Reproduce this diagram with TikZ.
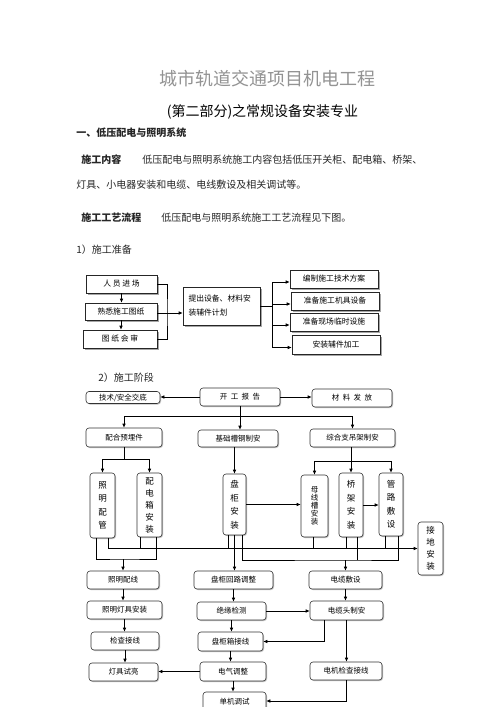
\documentclass[tikz,border=0pt]{standalone}
\usepackage{fontspec}
\setmainfont{Noto Sans CJK SC}
\usetikzlibrary{arrows.meta,shadows}

\begin{document}
\begin{tikzpicture}[x=1pt,y=-1pt, line width=0.6pt,
  arr/.style={-{Latex[length=4pt,width=3.5pt]}},
  body/.style={anchor=west, inner sep=0pt, text=black!85, font=\fontsize{10}{12}\selectfont},
  bold/.style={body, font=\bfseries\fontsize{10}{12}\selectfont},
  prep/.style={draw=black!85, fill=white, inner sep=0pt, font=\fontsize{7.8}{9}\selectfont,
    drop shadow={shadow xshift=2pt, shadow yshift=-2pt, fill=gray!70, opacity=1}},
  stage/.style={draw=black!80, rounded corners=3pt, fill=white, inner sep=0pt, font=\fontsize{7.5}{9}\selectfont,
    drop shadow={shadow xshift=1pt, shadow yshift=-1pt, fill=gray!50, opacity=1}},
  vstage/.style={stage, align=center, font=\fontsize{8.5}{13.5}\selectfont}]
\path[use as bounding box, fill=white] (0,0) rectangle (500,707);

% Heading and text
\node[text=gray!85, font=\fontsize{18}{20}\selectfont] (title) at (267.5,79) {城市轨道交通项目机电工程};
\node[font=\fontsize{14}{16}\selectfont] (subtitle) at (262.5,112) {(第二部分)之常规设备安装专业};
\node[bold] (sec) at (76,133) {一、低压配电与照明系统};
\node[bold] (content) at (81,160) {施工内容};
\node[body] (contenttext) at (142,160) {低压配电与照明系统施工内容包括低压开关柜、配电箱、桥架、};
\node[body] (contenttext2) at (76,185) {灯具、小电器安装和电缆、电线敷设及相关调试等。};
\node[bold] (flow) at (81,218) {施工工艺流程};
\node[body] (flowtext) at (161,218) {低压配电与照明系统施工工艺流程见下图。};
\node[body] (step1) at (76,250) {1）施工准备};
\node[body] (step2) at (98,378) {2）施工阶段};

% 1) preparation
\node[prep, minimum width=71pt, minimum height=18pt] (ry) at (121.5,284) {人\ 员\ 进\ 场};
\node[prep, minimum width=72pt, minimum height=17pt] (sx) at (121,311.5) {熟悉施工图纸};
\node[prep, minimum width=74pt, minimum height=18pt] (tz) at (120,339) {图\ 纸\ 会\ 审};
\node[prep, minimum width=77pt, minimum height=38pt, text width=66pt, align=left,
  font=\fontsize{7.8}{14}\selectfont] (tc) at (221.5,306) {提出设备、材料安\\装辅件计划};
\node[prep, minimum width=88pt, minimum height=18pt] (bz) at (334,279) {编制施工技术方案};
\node[prep, minimum width=88pt, minimum height=18pt] (zj) at (335,301) {准备施工机具设备};
\node[prep, minimum width=88pt, minimum height=18pt] (xc) at (334,322) {准备现场临时设施};
\node[prep, minimum width=88pt, minimum height=19pt] (fj) at (336,344.5) {安装辅件加工};

\draw[arr] (ry.south) -- (ry.south |- sx.north);
\draw[arr] (sx.south) -- (sx.south |- tz.north);
\coordinate (j1) at (167,313);
\draw (ry.east) -| (j1) |- (tz.east);
\draw[arr] (sx.east |- j1) -- (tc.west |- j1);
\coordinate (j2) at (272,306);
\draw (tc.east) -- (j2);
\foreach \n in {bz,zj,xc,fj}
  \draw[arr] (j2) |- ([yshift=-3pt]\n.west);

% 2) construction stage
\node[stage, minimum width=74pt, minimum height=12pt] (js) at (123,397.5) {技术/安全交底};
\node[stage, minimum width=80pt, minimum height=18pt] (kg) at (240,397) {开\ \ 工\ \ 报\ \ 告};
\node[stage, minimum width=80pt, minimum height=18pt] (cl) at (352,398) {材\ \ 料\ \ 发\ \ 放};
\node[stage, minimum width=76pt, minimum height=19pt] (ph) at (124,437.5) {配合预埋件};
\node[stage, minimum width=80pt, minimum height=17pt] (jc) at (238,438.5) {基础槽钢制安};
\node[stage, minimum width=85pt, minimum height=18pt] (zh) at (352.5,438) {综合支吊架制安};

\node[vstage, minimum width=25pt, minimum height=65pt] (zm) at (102.5,505.5) {照\\明\\配\\管};
\node[vstage, minimum width=25pt, minimum height=64pt, font=\fontsize{8.5}{12}\selectfont] (pd) at (149.5,505) {配\\电\\箱\\安\\装};
\node[vstage, minimum width=23pt, minimum height=61pt] (pg) at (234.5,504.5) {盘\\柜\\安\\装};
\node[vstage, minimum width=27pt, minimum height=62pt, font=\fontsize{7.5}{8}\selectfont] (mx) at (314.5,506) {母\\线\\槽\\安\\装};
\node[vstage, minimum width=24pt, minimum height=64pt] (qj) at (351,505) {桥\\架\\安\\装};
\node[vstage, minimum width=24pt, minimum height=63pt] (gl) at (391,504.5) {管\\路\\敷\\设};
\node[vstage, minimum width=25pt, minimum height=53pt, font=\fontsize{8.5}{12}\selectfont] (jd) at (430.5,548.5) {接\\地\\安\\装};

\draw[arr] (kg.west) -- (kg.west -| js.east);
\draw[arr] (kg.east) -- (kg.east -| cl.west);
\draw[arr] (kg.south) -- (kg.south |- jc.north);
\coordinate (j3) at (240,416);
\draw[arr] (j3) -| (ph.north);
\draw[arr] (j3) -| (zh.north);
\coordinate (j4) at (124,459);
\draw (ph.south) -- (j4);
\draw[arr] (j4) -| (zm.north);
\draw[arr] (j4) -| (pd.north);
\draw[arr] (jc.south -| pg.north) -- (pg.north);
\coordinate (j5) at (351,461);
\draw (zh.south -| j5) -- (j5);
\draw[arr] (j5) -| (mx.north);
\draw[arr] (j5) -- (qj.north);
\draw[arr] (j5) -| (gl.north);
\draw[arr] (pg.east) -- (pg.east -| mx.west);
\draw[arr] (qj.east) -- (qj.east -| gl.west);

% collecting lines
\draw[arr] ([xshift=5.5]zm.south) |- (jd.west);
\foreach \n/\s in {pd/-9.5, pg/-6.5, mx/-1.5, qj/-5, gl/-6}
  \draw ([xshift=\s]\n.south) -- ([xshift=\s]\n.south |- jd.west);
\coordinate (busB) at (123,559);
\draw ([xshift=-6.5]zm.south) |- (busB) -| ([xshift=6.5]pd.south);
\coordinate (busC) at (345.5,560);
\draw ([xshift=7.5]pg.south) |- (busC) -| ([xshift=7]gl.south);
\draw ([xshift=6]qj.south) -- ([xshift=6]qj.south |- busC);

% lower boxes
\node[stage, minimum width=72pt, minimum height=18pt] (zx) at (123,580) {照明配线};
\node[stage, minimum width=75pt, minimum height=18pt] (zd) at (124.5,610) {照明灯具安装};
\node[stage, minimum width=68pt, minimum height=18pt] (jx) at (125,641) {检查接线};
\node[stage, minimum width=69pt, minimum height=18pt] (ds) at (123.5,672) {灯具试亮};
\node[stage, minimum width=79pt, minimum height=18pt] (hl) at (233.5,580) {盘柜回路调整};
\node[stage, minimum width=69pt, minimum height=18pt] (jy) at (231.5,611) {绝缘检测};
\node[stage, minimum width=65pt, minimum height=19pt] (xj) at (230.5,641.5) {盘柜箱接线};
\node[stage, minimum width=66pt, minimum height=19pt] (dq) at (233,671.5) {电气调整};
\node[stage, minimum width=63pt, minimum height=20pt] (dj) at (234.5,702) {单机调试};
\node[stage, minimum width=73pt, minimum height=18pt] (dl) at (345.5,580) {电缆敷设};
\node[stage, minimum width=73pt, minimum height=19pt] (dt) at (346.5,610.5) {电缆头制安};
\node[stage, minimum width=72pt, minimum height=18pt] (dm) at (346,671) {电机检查接线};

\draw[arr] (busB) -- (zx.north);
\draw[arr] (pg.south) -- (pg.south |- hl.north);
\draw[arr] (busC) -- (dl.north);
\foreach \a/\b in {zx/zd, zd/jx, jx/ds, hl/jy, jy/xj, xj/dq, dq/dj, dl/dt, dt/dm}
  \draw[arr] (\a.south) -- (\a.south |- \b.north);
\draw[arr] (dq.west) -- (dq.west -| ds.east);
\draw[arr] (jy.east) -- (jy.east -| dt.west);
\draw[arr] ([xshift=-22.5]dt.south) |- (xj.east);
\draw[arr] (dm.south) |- ([yshift=1pt]dj.east);
\end{tikzpicture}
\end{document}
